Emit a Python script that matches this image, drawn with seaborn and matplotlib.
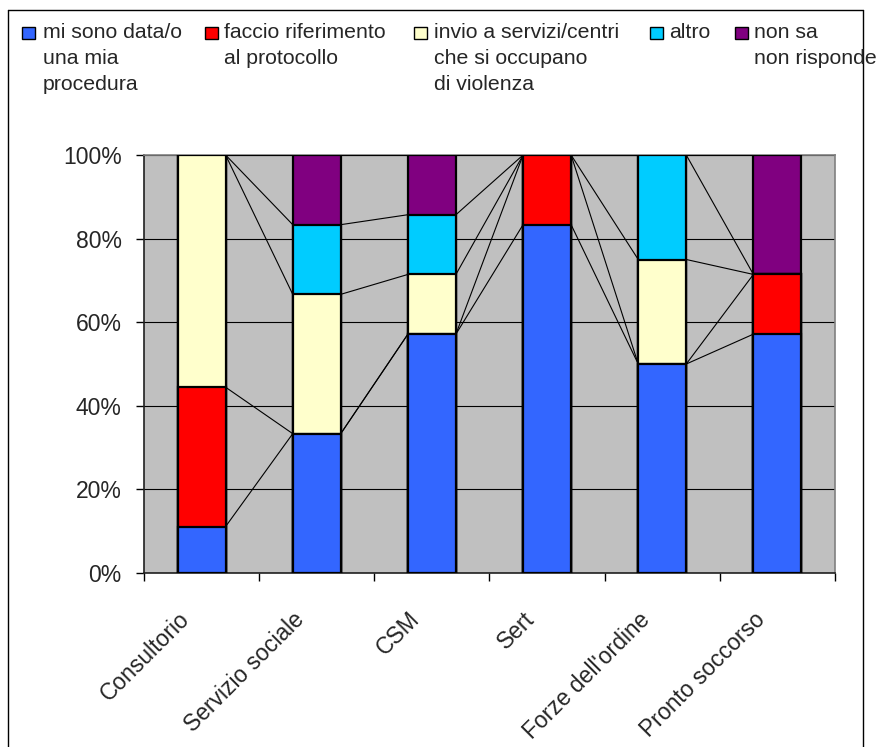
import numpy as np
import pandas as pd
import seaborn as sns
import matplotlib
matplotlib.use("Agg")
import matplotlib.pyplot as plt
import matplotlib.transforms as mtrans
from matplotlib.patches import Rectangle
from matplotlib.lines import Line2D
from matplotlib.ticker import PercentFormatter

# Servizi e risposte (numero di risposte per servizio)
categories = ["Consultorio", "Servizio sociale", "CSM", "Sert",
              "Forze dell'ordine", "Pronto soccorso"]
series_labels = ["mi sono data/o\nuna mia\nprocedura",
                 "faccio riferimento\nal protocollo",
                 "invio a servizi/centri\nche si occupano\ndi violenza",
                 "altro",
                 "non sa\nnon risponde"]
propria_procedura = [1, 2, 4, 5, 2, 4]
protocollo = [3, 0, 0, 1, 0, 1]
invio_servizi = [5, 2, 1, 0, 1, 0]
altro = [0, 1, 1, 0, 1, 0]
non_sa = [0, 1, 1, 0, 0, 2]
colors = ["#3366FF", "#FF0000", "#FFFFCC", "#00CCFF", "#800080"]

sns.set_style("white")
plt.rcParams["font.family"] = ["Liberation Sans", "DejaVu Sans"]

counts = np.array([propria_procedura, protocollo, invio_servizi, altro, non_sa], dtype=float)
shares = counts / counts.sum(axis=0)
cum = shares.cumsum(axis=0)

df = pd.DataFrame({"servizio": categories})
for k in range(len(series_labels)):
    df[f"cum{k}"] = cum[k]

W, H = 877, 747
fig, ax = plt.subplots(figsize=(W / 100, H / 100), dpi=100)
fig.subplots_adjust(left=144 / W, right=835 / W, bottom=1 - 573 / H, top=1 - 155 / H)
ax.set_facecolor("#C0C0C0")
ax.set_axisbelow(True)

bar_w = 0.417
# 100% stacked columns: cumulative bars drawn from the top series down
for k in reversed(range(len(series_labels))):
    sns.barplot(data=df, x="servizio", y=f"cum{k}", color=colors[k], saturation=1,
                width=bar_w, edgecolor="black", linewidth=1.6, errorbar=None,
                ax=ax, zorder=3)

# series lines joining segment tops of neighbouring columns
n = len(categories)
for k in range(len(series_labels)):
    for i in range(n - 1):
        ax.plot([i + bar_w / 2, i + 1 - bar_w / 2], [cum[k, i], cum[k, i + 1]],
                color="black", lw=0.8, zorder=4, solid_capstyle="butt")

ax.set_xlim(-0.5, n - 0.5)
ax.set_ylim(0, 1)
ax.set_xlabel("")
ax.set_ylabel("")

ax.set_yticks(np.linspace(0, 1, 6))
ax.yaxis.set_major_formatter(PercentFormatter(1.0, decimals=0))
ax.tick_params(axis="y", length=6, width=1, pad=10, labelsize=16.5,
               direction="out", color="black", left=True)
ax.yaxis.grid(True, color="black", lw=0.8, zorder=1)
ax.xaxis.grid(False)

ax.set_xticks(np.arange(-0.5, n, 1.0))
ax.set_xticklabels([])
ax.tick_params(axis="x", which="major", length=6, width=1, direction="out",
               color="black", bottom=True)
ax.set_xticks(np.arange(n), categories, minor=True)
ax.tick_params(axis="x", which="minor", length=0, pad=31, labelsize=16.5, bottom=True)
shift = mtrans.ScaledTranslation(-16 / 100, 0, fig.dpi_scale_trans)
for lab in ax.get_xticklabels(minor=True):
    lab.set_rotation(45)
    lab.set_ha("right")
    lab.set_va("center")
    lab.set_rotation_mode("anchor")
    lab.set_transform(lab.get_transform() + shift)

for side in ("left", "bottom"):
    ax.spines[side].set_color("#202020")
    ax.spines[side].set_linewidth(1.2)
for side in ("top", "right"):
    ax.spines[side].set_color("#808080")
    ax.spines[side].set_linewidth(1.2)

# outer chart frame
for xs, ys in [([8, 8], [10, H]), ([8, 863], [10, 10]), ([863, 863], [10, H])]:
    fig.add_artist(Line2D([x / W for x in xs], [1 - y / H for y in ys],
                          transform=fig.transFigure, color="black", lw=1.0))

# legend across the top
square_x = [22, 205, 414, 650, 735]
text_x = [43, 224, 434, 669, 754]
for k, lab in enumerate(series_labels):
    fig.add_artist(Rectangle((square_x[k] / W, 1 - 39 / H), 13 / W, 12 / H,
                             transform=fig.transFigure, facecolor=colors[k],
                             edgecolor="black", lw=1.0))
    fig.text(text_x[k] / W, 1 - 23 / H, lab, ha="left", va="top",
             fontsize=15.3, linespacing=1.45, zorder=5)

fig.savefig("out.png", dpi=100)
